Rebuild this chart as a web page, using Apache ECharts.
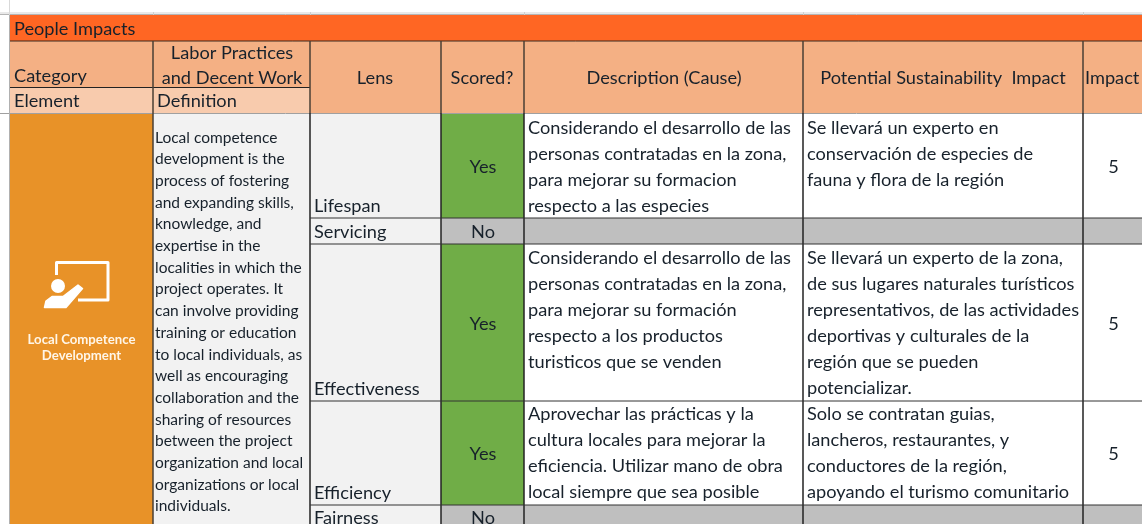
<!DOCTYPE html>
<html>
<head>
<meta charset="utf-8">
<title>People Impacts</title>
<style>
html, body { margin: 0; padding: 0; background: #fff; }
#main { width: 1142px; height: 524px; }
</style>
<script src="https://cdn.jsdelivr.net/npm/echarts@6/dist/echarts.min.js"></script>
</head>
<body>
<div id="main"></div>
<script>
// table content
var banner = 'People Impacts';
var headers = ['Lens', 'Scored?', 'Description (Cause)', 'Potential Sustainability  Impact', 'Impact'];
var elementName = 'Local Competence\nDevelopment';
var definition = [
    'Local competence', 'development is the', 'process of fostering', 'and expanding skills,',
    'knowledge, and', 'expertise in the', 'localities in which the', 'project operates. It',
    'can involve providing', 'training or education', 'to local individuals, as', 'well as encouraging',
    'collaboration and the', 'sharing of resources', 'between the project', 'organization and local',
    'organizations or local', 'individuals.'
];
var lenses = ['Lifespan', 'Servicing', 'Effectiveness', 'Efficiency', 'Fairness'];
var scored = ['Yes', 'No', 'Yes', 'Yes', 'No'];
var causes = [
    ['Considerando el desarrollo de las', 'personas contratadas en la zona,', 'para mejorar su formacion', 'respecto a las especies'],
    [],
    ['Considerando el desarrollo de las', 'personas contratadas en la zona,', 'para mejorar su formación', 'respecto a los productos', 'turisticos que se venden'],
    ['Aprovechar las prácticas y la', 'cultura locales para mejorar la', 'eficiencia. Utilizar mano de obra', 'local siempre que sea posible'],
    []
];
var effects = [
    ['Se llevará un experto en', 'conservación de especies de', 'fauna y flora de la región'],
    [],
    ['Se llevará un experto de la zona,', 'de sus lugares naturales turísticos', 'representativos, de las actividades', 'deportivas y culturales de la', 'región que se pueden', 'potencializar.'],
    ['Solo se contratan guias,', 'lancheros, restaurantes, y', 'conductores de la región,', 'apoyando el turismo comunitario'],
    []
];
var impacts = ['5', '', '5', '5', ''];

// sheet geometry, in axis units
var rowEdges = [113, 218, 244, 401, 505, 540];
var textTop = [115, 0, 245, 401, 0];

var FONT = 'Lato, Carlito, sans-serif';
var INK = '#17212b';
var BASE = 18.2;
var C = {
    banner: '#ff6623', head: '#f4b084', sub: '#f8cbad', element: '#e89228',
    side: '#f2f2f2', yes: '#70ad47', off: '#bfbfbf', white: '#ffffff'
};

var cells = [];
var texts = [];
var lines = [];

function cell(x0, x1, y0, y1, fill) { cells.push([x0, x1, y0, y1, fill]); }
function label(x, y, text, o) {
    o = o || {};
    texts.push([x, y, text, o.align || 'left', o.size || BASE, o.color || INK, o.weight || 'normal']);
}
function line(x0, y0, x1, y1, color, w) { lines.push([x0, y0, x1, y1, color, w || 1]); }

// header block
cell(0, 1142, 12, 15, '#e9e9e9');
cell(9, 1142, 15, 41, C.banner);
cell(9, 153, 41, 88, C.head);
cell(153, 310, 41, 88, C.head);
cell(9, 153, 88, 113, C.sub);
cell(153, 310, 88, 113, C.sub);
cell(310, 1142, 41, 113, C.head);
label(14, 29, banner);
label(14, 76, 'Category');
label(14, 101, 'Element');
label(232, 53, 'Labor Practices', {align: 'center'});
label(232, 78, 'and Decent Work', {align: 'center'});
label(157, 101, 'Definition');
label(375, 78, headers[0], {align: 'center'});
label(482, 78, headers[1], {align: 'center'});
label(664, 78, headers[2], {align: 'center'});
label(943, 78, headers[3], {align: 'center'});
label(1085, 78, headers[4]);

// left merged columns
cell(9, 153, 113, 540, C.element);
cell(153, 310, 113, 540, C.side);
label(81.5, 340, elementName.split('\n')[0], {align: 'center', size: 13.2, color: '#fff6e8', weight: 'bold'});
label(81.5, 356, elementName.split('\n')[1], {align: 'center', size: 13.2, color: '#fff6e8', weight: 'bold'});
definition.forEach(function (t, i) {
    label(155, 137.5 + i * 21.7, t, {size: 15.5});
});

// body rows
lenses.forEach(function (name, i) {
    var top = rowEdges[i], bottom = rowEdges[i + 1];
    var on = scored[i] === 'Yes';
    var mid = i === 4 ? 517 : (top + bottom) / 2;
    cell(310, 441, top, bottom, C.side);
    cell(441, 524, top, bottom, on ? C.yes : C.off);
    cell(524, 803, top, bottom, on ? C.white : C.off);
    cell(803, 1083, top, bottom, on ? C.white : C.off);
    cell(1083, 1142, top, bottom, on ? C.white : C.off);
    label(314, i === 4 ? 518 : bottom - 12, name);
    label(483, mid + 1.5, scored[i], {align: 'center'});
    causes[i].forEach(function (t, k) { label(528, textTop[i] + 13 + k * 26, t); });
    effects[i].forEach(function (t, k) { label(807, textTop[i] + 13 + k * 26, t); });
    if (impacts[i]) label(1113.5, mid + 1.5, impacts[i], {align: 'center'});
});

// grid lines
var HEAD_LINE = '#4a3f35';
line(0, 14.5, 1142, 14.5, '#b5b5b5');
line(9.5, 0, 9.5, 15, '#d9d9d9');
[153, 310, 524, 803, 1083].forEach(function (x) { line(x + 0.5, 12, x + 0.5, 15, '#d0d0d0'); });
line(9, 41, 1142, 41, '#3a2a20');
line(9, 87.5, 310, 87.5, '#222222');
line(0, 113.5, 1142, 113.5, '#a0a0a0');
line(9.5, 15, 9.5, 540, '#b0b0b0');
line(153, 41, 153, 540, HEAD_LINE, 1.5);
[310, 441, 524, 803, 1083].forEach(function (x) {
    line(x, 41, x, 113, HEAD_LINE, 1.5);
    line(x, 113, x, 540, '#222222', 1.5);
});
rowEdges.slice(1, 5).forEach(function (y) { line(310, y, 1142, y, '#333333'); });

var chart = echarts.init(document.getElementById('main'), null, {renderer: 'canvas'});

function renderCell(params, api) {
    var d = cells[params.dataIndex];
    var a = api.coord([d[0], d[2]]);
    var b = api.coord([d[1], d[3]]);
    return {type: 'rect', shape: {x: a[0], y: a[1], width: b[0] - a[0], height: b[1] - a[1]}, style: {fill: d[4]}};
}
function renderLine(params, api) {
    var d = lines[params.dataIndex];
    var a = api.coord([d[0], d[1]]);
    var b = api.coord([d[2], d[3]]);
    return {type: 'line', shape: {x1: a[0], y1: a[1], x2: b[0], y2: b[1]}, style: {stroke: d[4], lineWidth: d[5]}};
}
function renderText(params, api) {
    var d = texts[params.dataIndex];
    var p = api.coord([d[0], d[1]]);
    return {
        type: 'text',
        x: p[0],
        y: p[1],
        style: {
            text: d[2], align: d[3], verticalAlign: 'middle', fill: d[5],
            font: d[6] + ' ' + d[4] + 'px ' + FONT
        }
    };
}

chart.setOption({
    animation: false,
    backgroundColor: '#ffffff',
    grid: {left: 0, right: 0, top: 0, bottom: 0},
    xAxis: {type: 'value', min: 0, max: 1142, show: false},
    yAxis: {type: 'value', min: 0, max: 524, inverse: true, show: false},
    series: [
        {type: 'custom', silent: true, clip: true, renderItem: renderCell, data: cells.map(function (c) { return c.slice(0, 4); }), encode: {x: [0, 1], y: [2, 3]}, z: 1},
        {type: 'custom', silent: true, clip: true, renderItem: renderLine, data: lines.map(function (c) { return c.slice(0, 4); }), encode: {x: [0, 2], y: [1, 3]}, z: 2},
        {type: 'custom', silent: true, clip: true, renderItem: renderText, data: texts.map(function (c) { return c.slice(0, 2); }), encode: {x: 0, y: 1}, z: 3}
    ],
    // presenter icon of the element cell
    graphic: {
        elements: [
            {type: 'polyline', z: 10, shape: {points: [[56.5, 275], [56.5, 262.5], [108, 262.5], [108, 300], [78, 300]]}, style: {stroke: '#fff', lineWidth: 3, fill: null, lineJoin: 'round'}},
            {type: 'circle', z: 10, shape: {cx: 58, cy: 286, r: 7}, style: {fill: '#fff'}},
            {type: 'polygon', z: 10, shape: {points: [[44.5, 307.5], [46, 301], [52, 296.5], [63, 296.5], [78, 285], [82.5, 288.5], [66, 307.5]]}, style: {fill: '#fff', lineJoin: 'round', stroke: '#fff', lineWidth: 1.5}}
        ]
    }
});
</script>
</body>
</html>
